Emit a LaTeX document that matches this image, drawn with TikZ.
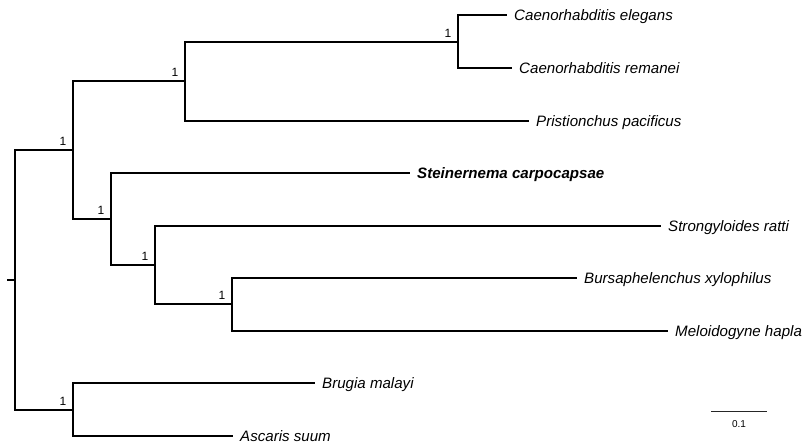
\documentclass[tikz,border=0pt]{standalone}
\usepackage{fontspec}
\setmainfont{Liberation Sans}
\begin{document}
\begin{tikzpicture}[x=1pt,y=-1pt,
  branch/.style={line width=1.7pt,line cap=rect},
  leaf/.style={anchor=base west,inner sep=0pt,font=\fontsize{15.1}{16}\selectfont\itshape},
  leafbold/.style={anchor=base west,inner sep=0pt,font=\fontsize{15.1}{16}\selectfont\bfseries\itshape},
  support/.style={anchor=south east,inner sep=0pt,font=\fontsize{12}{13}\selectfont},
  scalelbl/.style={anchor=base,inner sep=0pt,font=\fontsize{10}{11}\selectfont}]
\useasboundingbox (0,0) rectangle (811,445);
% internal nodes
\coordinate (root) at (15,280);
\coordinate (rtick) at (8,280);
\coordinate (B) at (73,150);
\coordinate (C) at (185,81);
\coordinate (D) at (458,42);
\coordinate (E) at (111,219);
\coordinate (F) at (155,265);
\coordinate (G) at (232,304);
\coordinate (H) at (73,410);
% leaf tips
\coordinate (tCe) at (506,15);
\coordinate (tCr) at (511,68);
\coordinate (tPp) at (528,121);
\coordinate (tSc) at (409,173);
\coordinate (tSr) at (660,226);
\coordinate (tBx) at (576,278);
\coordinate (tMh) at (667,331);
\coordinate (tBm) at (314,383);
\coordinate (tAs) at (232,436);
% labels
\node[leaf] (lCe) at ([xshift=8pt,yshift=-5.4pt]tCe) {Caenorhabditis elegans};
\node[leaf] (lCr) at ([xshift=8pt,yshift=-5.4pt]tCr) {Caenorhabditis remanei};
\node[leaf] (lPp) at ([xshift=8pt,yshift=-5.4pt]tPp) {Pristionchus pacificus};
\node[leafbold] (lSc) at ([xshift=8pt,yshift=-5.4pt]tSc) {Steinernema carpocapsae};
\node[leaf] (lSr) at ([xshift=8pt,yshift=-5.4pt]tSr) {Strongyloides ratti};
\node[leaf] (lBx) at ([xshift=8pt,yshift=-5.4pt]tBx) {Bursaphelenchus xylophilus};
\node[leaf] (lMh) at ([xshift=8pt,yshift=-5.4pt]tMh) {Meloidogyne hapla};
\node[leaf] (lBm) at ([xshift=8pt,yshift=-5.4pt]tBm) {Brugia malayi};
\node[leaf] (lAs) at ([xshift=8pt,yshift=-5.4pt]tAs) {Ascaris suum};
% branches
\draw[branch] (rtick) -- (root);
\draw[branch] (root) |- (B);
\draw[branch] (root) |- (H);
\draw[branch] (B) |- (C);
\draw[branch] (B) |- (E);
\draw[branch] (C) |- (D);
\draw[branch] (C) |- (tPp);
\draw[branch] (D) |- (tCe);
\draw[branch] (D) |- (tCr);
\draw[branch] (E) |- (tSc);
\draw[branch] (E) |- (F);
\draw[branch] (F) |- (tSr);
\draw[branch] (F) |- (G);
\draw[branch] (G) |- (tBx);
\draw[branch] (G) |- (tMh);
\draw[branch] (H) |- (tBm);
\draw[branch] (H) |- (tAs);
% support values
\node[support] (sB) at ([xshift=-6.5pt,yshift=4pt]B) {1};
\node[support] (sC) at ([xshift=-6.5pt,yshift=4pt]C) {1};
\node[support] (sD) at ([xshift=-6.5pt,yshift=4pt]D) {1};
\node[support] (sE) at ([xshift=-6.5pt,yshift=4pt]E) {1};
\node[support] (sF) at ([xshift=-6.5pt,yshift=4pt]F) {1};
\node[support] (sG) at ([xshift=-6.5pt,yshift=4pt]G) {1};
\node[support] (sH) at ([xshift=-6.5pt,yshift=4pt]H) {1};
% scale bar
\coordinate (sb1) at (711,411);
\coordinate (sb2) at (767,411);
\draw[line width=1pt,black!85] (sb1) -- (sb2);
\node[scalelbl] (sbl) at (739,427.3) {0.1};
\end{tikzpicture}
\end{document}
